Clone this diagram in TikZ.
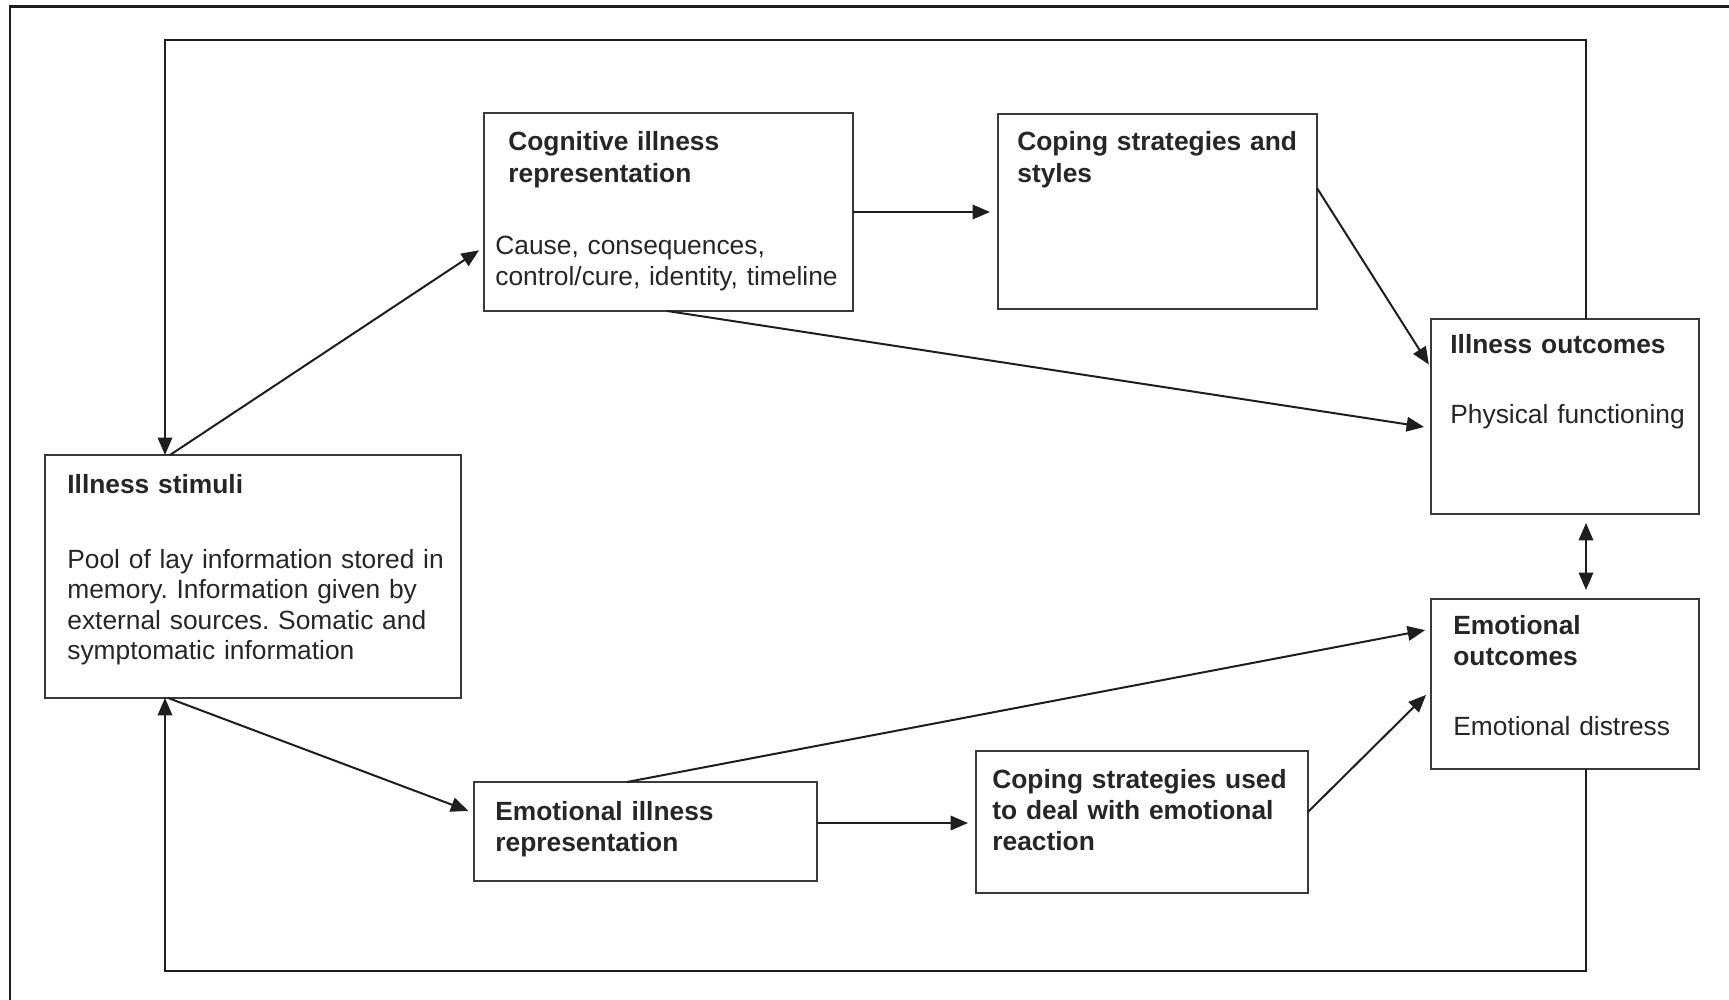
\documentclass[tikz,border=0pt]{standalone}
\usepackage{fontspec}
\setmainfont{Liberation Sans}
\usetikzlibrary{arrows.meta,calc}
\definecolor{boxc}{HTML}{3A3A3A}
\definecolor{arrc}{HTML}{1E1E1E}
\definecolor{txtc}{HTML}{262626}
\frenchspacing
\begin{document}
\begin{tikzpicture}[x=0.02cm,y=-0.02cm,
  box/.style={draw=boxc, line width=0.035cm, inner sep=0pt, outer sep=0pt, anchor=north west},
  ttl/.style={anchor=base west, inner sep=0pt, text width=9cm, align=left, text=txtc,
              font=\fontsize{15}{17.8}\selectfont\bfseries},
  bdy/.style={anchor=base west, inner sep=0pt, text width=9cm, align=left, text=txtc,
              font=\fontsize{15}{17.4}\selectfont},
  arr/.style={draw=arrc, line width=0.04cm, -{Triangle[length=0.35cm,width=0.29cm]}},
  arrtwo/.style={draw=arrc, line width=0.04cm, {Triangle[length=0.35cm,width=0.29cm]}-{Triangle[length=0.35cm,width=0.29cm]}},
  frame/.style={draw=arrc, line width=0.06cm}
]
\useasboundingbox (0,0) rectangle (1729,1000);

% outer frame (cropped at right and bottom)
\coordinate (frtop) at (1729,7);
\coordinate (frcorner) at (10,7);
\coordinate (frbot) at (10,1000);
\draw[frame] (frtop) -- (frcorner) -- (frbot);

% boxes
\node[box, minimum width=8.32cm, minimum height=4.86cm] (stim) at (45,455) {};
\node[box, minimum width=7.38cm, minimum height=3.96cm] (cog) at (484,113) {};
\node[box, minimum width=6.38cm, minimum height=3.90cm] (copsty) at (998,114) {};
\node[box, minimum width=5.36cm, minimum height=3.90cm] (illout) at (1431,319) {};
\node[box, minimum width=5.36cm, minimum height=3.40cm] (emoout) at (1431,599) {};
\node[box, minimum width=6.86cm, minimum height=1.98cm] (emorep) at (474,782) {};
\node[box, minimum width=6.64cm, minimum height=2.84cm] (copused) at (976,751) {};

% texts
\node[ttl] (stimt) at (67,493) {Illness stimuli};
\node[bdy] (stimb) at (67,568) {Pool of lay information stored in\\memory. Information given by\\external sources. Somatic and\\symptomatic information};

\node[ttl] (cogt) at (508,151) {Cognitive illness\\representation};
\node[bdy] (cogb) at (495,255) {Cause, consequences,\\control/cure, identity, timeline};

\node[ttl] (copstyt) at (1017,151) {Coping strategies and\\styles};

\node[ttl] (illoutt) at (1450,354) {Illness outcomes};
\node[bdy] (illoutb) at (1450,423) {Physical functioning};

\node[ttl] (emooutt) at (1453,634) {Emotional\\outcomes};
\node[bdy] (emooutb) at (1453,735) {Emotional distress};

\node[ttl] (emorept) at (495,820) {Emotional illness\\representation};

\node[ttl] (copusedt) at (992,788) {Coping strategies used\\to deal with emotional\\reaction};

% feedback loop
\coordinate (looptl) at (165,40);
\coordinate (loopbl) at (165,971);
\draw[arr] ($(illout.north west)+(155,0)$) |- (looptl) -- ($(stim.north west)+(120,0)$);
\draw[arr] ($(emoout.south west)+(155,0)$) |- (loopbl) -- ($(stim.south west)+(120,0)$);

% connectors
\draw[arr, shorten >=0.12cm] ($(stim.north west)+(125,0)$) -- ($(cog.north west)+(0,134)$);
\draw[arr, shorten >=0.12cm] ($(stim.south west)+(123,0)$) -- ($(emorep.north west)+(0,31)$);
\draw[arr, shorten >=0.16cm] ($(cog.north east)+(0,99)$) -- ($(copsty.north west)+(0,98)$);
\draw[arr, shorten >=0.08cm] ($(copsty.north east)+(0,74)$) -- ($(illout.north west)+(0,49)$);
\draw[arr, shorten >=0.14cm] ($(cog.south west)+(183,0)$) -- ($(illout.north west)+(0,109)$);
\draw[arr, shorten >=0.12cm] ($(emorep.north west)+(153,0)$) -- ($(emoout.north west)+(0,30)$);
\draw[arr, shorten >=0.16cm] ($(emorep.north east)+(0,41)$) -- ($(copused.north west)+(0,72)$);
\draw[arr, shorten >=0.14cm] ($(copused.north east)+(0,61)$) -- ($(emoout.north west)+(0,91)$);
\draw[arrtwo, shorten >=0.18cm, shorten <=0.18cm] ($(illout.south west)+(155,0)$) -- ($(emoout.north west)+(155,0)$);
\end{tikzpicture}
\end{document}
